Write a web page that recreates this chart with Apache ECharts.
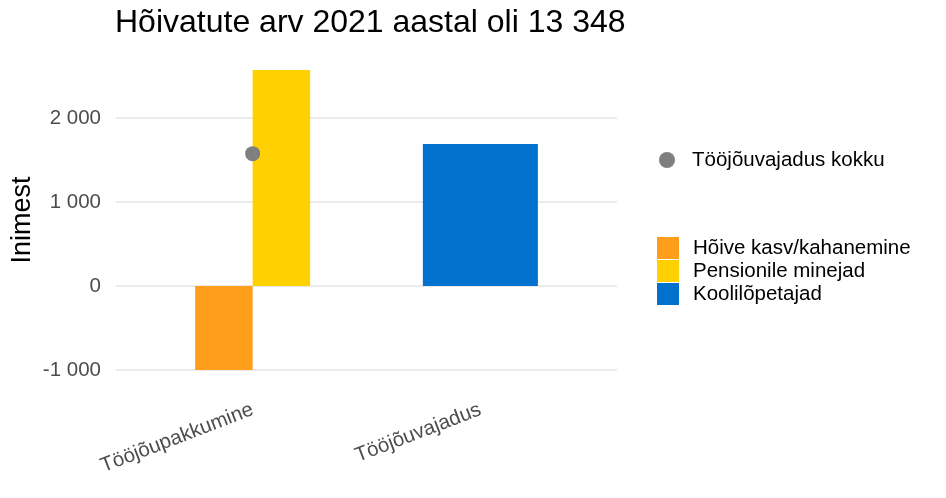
<!DOCTYPE html>
<html>
<head>
<meta charset="utf-8">
<script src="https://cdn.jsdelivr.net/npm/echarts@6/dist/echarts.min.js"></script>
<style>
  html, body { margin: 0; padding: 0; background: #fff; }
  #chart { width: 946px; height: 498px; }
</style>
</head>
<body>
<div id="chart"></div>
<script>
// andmed
const categories = ['Tööjõupakkumine', 'Tööjõuvajadus'];
const yTicks = [-1000, 0, 1000, 2000];
const yTickLabels = ['-1 000', '0', '1 000', '2 000'];
const hoiveKasv = [-1000, null];
const pensionile = [2571, null];
const koolilopetajad = [null, 1690];
const kokku = [1575, null];

const barSeries = [
    { name: 'Hõive kasv/kahanemine', data: hoiveKasv, color: '#FF9E1B' },
    { name: 'Pensionile minejad', data: pensionile, color: '#FFD100' },
    { name: 'Koolilõpetajad', data: koolilopetajad, color: '#0072CE' }
];

const gridLeft = 116, gridRight = 329;
const xMin = -0.6, xMax = 1.6;
const pxPerUnit = (946 - gridLeft - gridRight) / (xMax - xMin);
const groupWidth = 0.505;

// ggploti position_dodge moodi paigutus
function dodge(s, c) {
    const present = barSeries.filter(b => b.data[c] != null);
    const n = present.length;
    const k = present.indexOf(s);
    return { x: c + (k - (n - 1) / 2) * groupWidth / n, w: groupWidth / n };
}

const labelFont = { color: '#4D4D4D', fontSize: 20.5, fontFamily: 'Liberation Sans' };

const xAxes = barSeries.map((s, i) => ({
    type: 'value',
    gridIndex: 0,
    min: xMin,
    max: xMax,
    show: i === 0,
    axisLine: { show: false },
    axisTick: { show: false },
    splitLine: { show: false },
    axisLabel: Object.assign({
        customValues: [0, 1],
        formatter: v => categories[Math.round(v)],
        rotate: 21,
        margin: 24
    }, labelFont)
}));

const series = barSeries.map((s, i) => {
    const pts = [];
    let width = 0;
    s.data.forEach((v, c) => {
        if (v == null) return;
        const d = dodge(s, c);
        pts.push([d.x, v]);
        width = d.w * pxPerUnit;
    });
    return {
        name: s.name,
        type: 'bar',
        xAxisIndex: i,
        barWidth: width,
        clip: false,
        itemStyle: { color: s.color },
        data: pts
    };
});

series.push({
    name: 'Tööjõuvajadus kokku',
    type: 'scatter',
    xAxisIndex: 0,
    symbolSize: 15,
    itemStyle: { color: '#7F7F7F', opacity: 1 },
    z: 5,
    data: kokku.map((v, c) => v == null ? null : [c, v]).filter(d => d)
});

const chart = echarts.init(document.getElementById('chart'));
const option = {
    animation: false,
    title: {
        text: 'Hõivatute arv 2021 aastal oli 13 348',
        left: 115,
        top: 7,
        padding: 0,
        textStyle: { color: '#000', fontSize: 32, fontWeight: 'normal', fontFamily: 'Liberation Sans' }
    },
    grid: { left: gridLeft, right: gridRight, top: 55, bottom: 113, outerBoundsMode: 'none', containLabel: false },
    legend: [
        {
            data: ['Tööjõuvajadus kokku'],
            left: 659,
            top: 149,
            padding: 0,
            icon: 'circle',
            itemWidth: 22,
            itemHeight: 16,
            textStyle: { color: '#000', fontSize: 20.5, lineHeight: 22, fontFamily: 'Liberation Sans', padding: [0, 0, 0, 9] }
        },
        {
            data: barSeries.map(s => s.name),
            orient: 'vertical',
            left: 657,
            top: 237,
            padding: 0,
            itemGap: 1,
            icon: 'rect',
            itemWidth: 22,
            itemHeight: 22,
            textStyle: { color: '#000', fontSize: 20.5, lineHeight: 22, fontFamily: 'Liberation Sans', padding: [0, 0, 0, 9] }
        }
    ],
    xAxis: xAxes,
    yAxis: {
        type: 'value',
        min: -1180,
        max: 2750,
        name: 'Inimest',
        nameLocation: 'middle',
        nameGap: 80,
        nameMoveOverlap: false,
        nameTextStyle: { color: '#000', fontSize: 27, fontFamily: 'Liberation Sans' },
        axisLine: { show: false },
        axisTick: { show: false, customValues: yTicks },
        splitLine: { show: true, lineStyle: { color: '#EBEBEB', width: 2 } },
        axisLabel: Object.assign({
            customValues: yTicks,
            margin: 15,
            formatter: v => yTickLabels[yTicks.indexOf(v)]
        }, labelFont)
    },
    series: series
};
option && chart.setOption(option);
</script>
</body>
</html>
